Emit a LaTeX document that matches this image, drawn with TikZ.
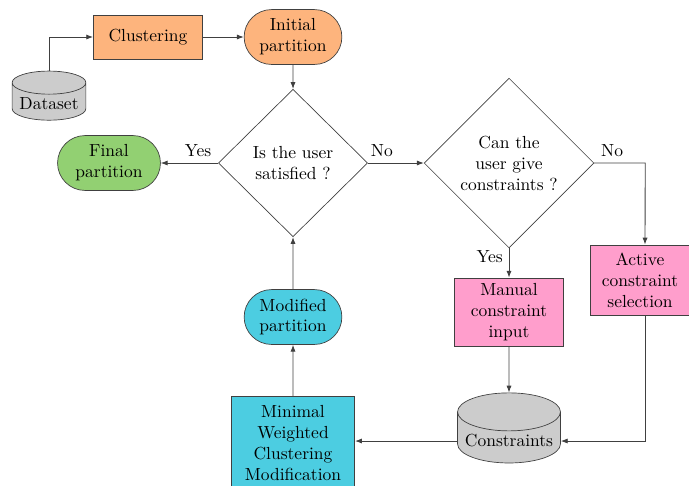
\documentclass[tikz,border=0pt]{standalone}
\usetikzlibrary{arrows.meta, positioning, shapes.geometric, shapes.misc}

\definecolor{orangefill}{RGB}{253,180,125}
\definecolor{greenfill}{RGB}{146,208,114}
\definecolor{cyanfill}{RGB}{76,205,225}
\definecolor{pinkfill}{RGB}{255,158,204}
\definecolor{grayfill}{RGB}{204,204,204}

\begin{document}
\begin{tikzpicture}[
  x=0.5831pt, y=-0.5831pt,
  every node/.style={font=\fontsize{10.2}{12.2}\selectfont, align=center},
  line/.style={draw=black!75, line width=0.5pt},
  arr/.style={line, -{Latex[length=4pt, width=3pt]}},
  proc/.style={rectangle, draw=black!75, inner sep=2pt},
  part/.style={rounded rectangle, draw=black!75, minimum width=61pt, minimum height=32pt, inner sep=2pt},
  choice/.style={diamond, draw=black!75, inner sep=0pt},
  store/.style={cylinder, shape border rotate=90, draw=black!75, fill=grayfill, inner sep=2pt}
]
\useasboundingbox (0,0) rectangle (689,485);

% Nodes
\node[store, aspect=0.35, minimum width=43pt, minimum height=28pt] (data) at (49,104) {Dataset};
\node[proc, fill=orangefill, minimum width=63.6pt, minimum height=25.7pt] (clust) at (148,37) {Clustering};
\node[part, fill=orangefill] (init) at (293,37) {Initial\\partition};
\node[choice, minimum width=87pt, minimum height=86pt] (sat) at (293,163) {Is the user\\satisfied ?};
\node[part, fill=greenfill, minimum width=64pt] (final) at (109,163) {Final\\partition};
\node[choice, minimum width=99pt, minimum height=99pt] (give) at (509,163) {Can the\\user give\\constraints ?};
\node[proc, fill=pinkfill, minimum width=63.6pt, minimum height=39.7pt] (manual) at (509,312) {Manual\\constraint\\input};
\node[proc, fill=pinkfill, minimum width=58pt, minimum height=41pt] (active) at (640,280) {Active\\constraint\\selection};
\node[store, aspect=0.4, minimum width=60pt, minimum height=33pt] (cons) at (509,441) {Constraints};
\node[proc, fill=cyanfill, minimum width=72pt, minimum height=54pt] (mwcm) at (293,443) {Minimal\\Weighted\\Clustering\\Modification};
\node[part, fill=cyanfill] (mod) at (293,317) {Modified\\partition};

% Edges
\draw[arr] (data.north) |- (clust.west);
\draw[arr] (clust) -- (init);
\draw[arr] (init) -- (sat);
\draw[arr] (sat.west) -- node[above, pos=0.35] {Yes} (final.east);
\draw[arr] (sat.east) -- node[above, pos=0.25] {No} (give.west);
\draw[arr] (give.east) -- node[above, pos=0.35] {No} ++(51,0) -- (active.north -| 645,0);
\draw[arr] (give.south) -- node[left, pos=0.3] {Yes} (manual.north);
\draw[arr] (manual) -- (cons);
\draw[arr] (active.south -| 645,0) |- (cons.east);
\draw[arr] (cons.west) -- (mwcm.east |- cons.west);
\draw[arr] (mwcm) -- (mod);
\draw[arr] (mod) -- (sat);

\end{tikzpicture}
\end{document}
